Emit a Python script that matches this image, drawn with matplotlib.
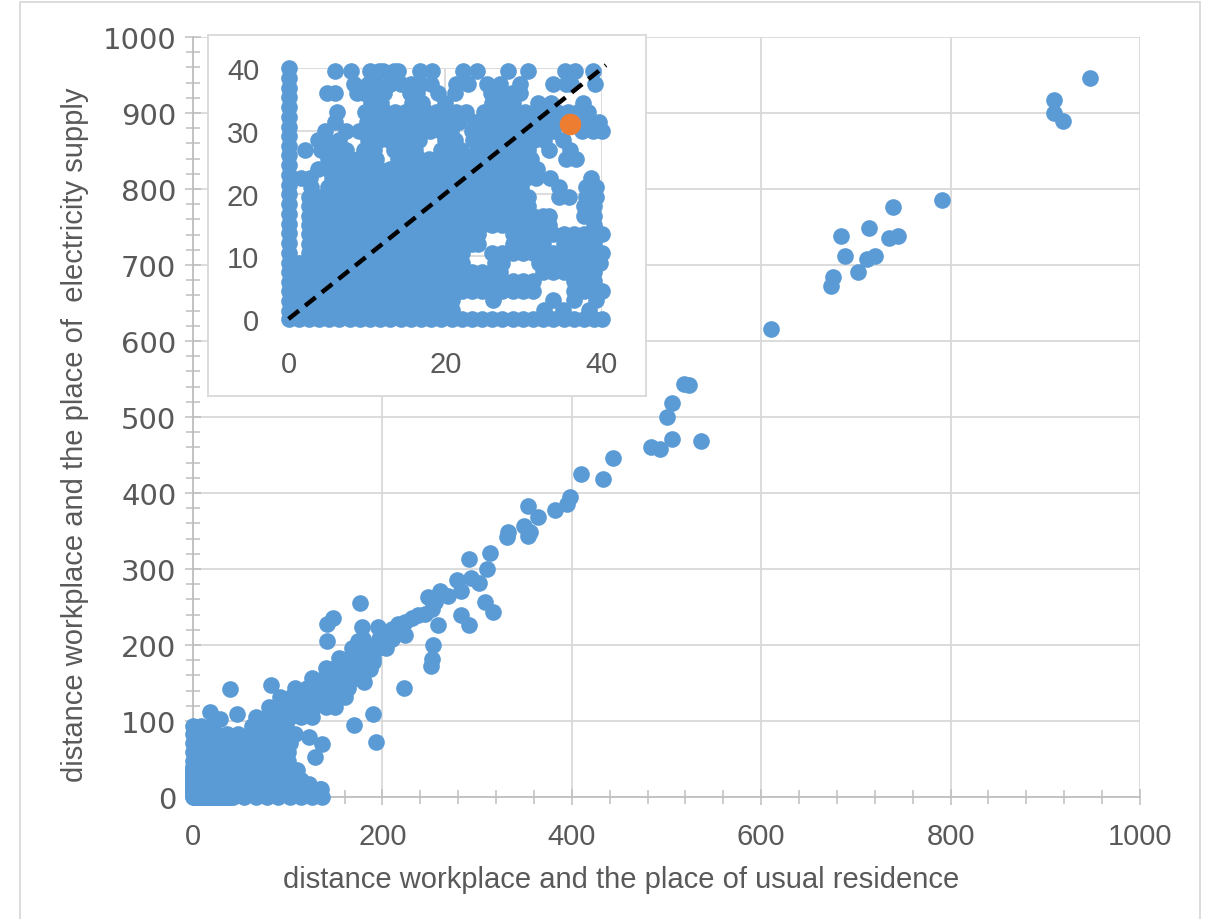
import numpy as np
import matplotlib
matplotlib.use("Agg")
import matplotlib.pyplot as plt
from matplotlib.patches import Rectangle
from matplotlib.ticker import MultipleLocator

BLUE = "#5B9BD5"
ORANGE = "#ED7D31"
GRID = "#D9D9D9"
AXIS = "#BFBFBF"
TEXT = "#595959"

# ---------------------------------------------------------------- data (km)
# commuters whose workplace distance to residence is 0 (points on the y axis)
axis_x0_y = [1.2, 2.8, 4.4, 5.9, 7.5, 9.0, 10.6, 12.1, 13.7, 15.2, 16.8, 18.3,
             19.9, 21.4, 23.0, 24.5, 26.1, 27.6, 29.2, 30.7, 32.3, 33.8, 35.4,
             36.9, 38.5, 40.0, 47, 59, 71, 83, 93]

# commuters whose workplace distance to supply is 0 (points on the x axis)
axis_y0_x = [0.0, 1.3, 2.6, 3.9, 5.2, 6.5, 7.8, 9.1, 10.4, 11.7, 13.0, 14.3,
             15.6, 16.9, 18.2, 19.5, 20.8, 22.1, 23.4, 24.7, 26.0, 27.3, 28.6,
             29.9, 31.2, 32.5, 33.8, 35.1, 36.4, 37.7, 39.0, 40.0,
             42, 54, 66, 78, 90, 102, 114, 126, 136]

# short distances, grouped by distance to electricity supply
near_rows = {
    1.5: [1.3, 2.6, 3.9, 5.2, 6.5, 7.8, 9.1, 10.4, 11.7, 13.0, 14.3, 15.6, 16.9,
          18.2, 19.5, 20.8, 32.6, 35.0, 38.3],
    3.0: [1.3, 2.6, 3.9, 5.2, 6.5, 7.8, 9.1, 10.4, 11.7, 13.0, 14.3, 15.6, 16.9,
          18.2, 19.5, 20.8, 26.1, 33.8, 36.4, 39.2],
    4.5: [1.3, 2.6, 3.9, 5.2, 6.5, 7.8, 9.1, 10.4, 11.7, 13.0, 14.3, 15.6, 16.9,
          18.2, 19.5, 20.8, 22.1, 23.4, 24.7, 26.0, 27.3, 28.6, 29.9, 31.2, 36.4,
          37.7, 39.0, 40.0],
    6.0: [1.3, 2.6, 3.9, 5.2, 6.5, 7.8, 9.1, 10.4, 11.7, 13.0, 14.3, 15.6, 16.9,
          18.2, 19.5, 20.8, 22.1, 23.4, 24.7, 26.0, 27.3, 28.6, 29.9, 31.2, 36.4,
          37.7, 39.0],
    7.5: [1.3, 2.6, 3.9, 5.2, 6.5, 7.8, 9.1, 10.4, 11.7, 13.0, 14.3, 15.6, 16.9,
          18.2, 19.5, 20.8, 22.1, 23.4, 24.7, 26.0, 27.0, 32.5, 33.8, 35.1, 36.4,
          37.7, 39.0],
    9.0: [1.3, 2.6, 3.9, 5.2, 6.5, 7.8, 9.1, 10.4, 11.7, 13.0, 14.3, 15.6, 16.9,
          18.2, 19.5, 20.8, 22.1, 26.4, 27.2, 32.0, 33.3, 34.6, 35.9, 37.2, 38.5,
          39.8],
    10.5: [2.6, 3.9, 5.2, 6.5, 7.8, 9.1, 10.4, 11.7, 13.0, 14.3, 15.6, 16.9, 18.2,
           19.5, 20.8, 22.1, 26.0, 27.3, 28.6, 29.9, 31.2, 32.5, 33.8, 35.1, 36.4,
           37.7, 39.0, 40.0],
    12.0: [2.6, 3.9, 5.2, 6.5, 7.8, 9.1, 10.4, 11.7, 13.0, 14.3, 15.6, 16.9, 18.2,
           19.5, 20.8, 22.1, 23.4, 24.2, 28.6, 29.9, 31.2, 32.5, 35.1, 36.4, 37.7,
           39.0],
    13.5: [2.6, 3.9, 5.2, 6.5, 7.8, 9.1, 10.4, 11.7, 13.0, 14.3, 15.6, 16.9, 18.2,
           19.5, 20.8, 22.1, 23.4, 24.2, 28.6, 29.9, 31.2, 32.5, 33.8, 35.1, 36.4,
           37.7, 39.0, 40.0],
    15.0: [2.6, 3.9, 5.2, 6.5, 7.8, 9.1, 10.4, 11.7, 13.0, 14.3, 15.6, 16.9, 18.2,
           19.5, 20.8, 22.1, 23.4, 24.7, 26.0, 27.3, 28.6, 29.9, 31.2, 32.5, 33.2,
           39.0],
    16.5: [2.6, 3.9, 5.2, 6.5, 7.8, 9.1, 10.4, 11.7, 13.0, 14.3, 15.6, 16.9, 18.2,
           19.5, 20.8, 22.1, 23.4, 24.7, 26.0, 27.3, 28.6, 29.9, 31.2, 32.5, 33.2,
           37.7, 39.0],
    18.0: [2.6, 3.9, 5.2, 6.5, 7.8, 9.1, 10.4, 11.7, 13.0, 14.3, 15.6, 16.9, 18.2,
           19.5, 20.8, 22.1, 23.4, 24.7, 26.0, 27.3, 28.6, 29.9, 30.5, 37.7, 39.0],
    19.5: [2.6, 3.9, 5.2, 6.5, 7.8, 9.1, 10.4, 11.7, 13.0, 14.3, 15.6, 16.9, 18.2,
           19.5, 20.8, 22.1, 23.4, 24.7, 26.0, 27.3, 28.6, 29.9, 30.5, 34.5, 35.8,
           37.9, 39.2],
    21.0: [2.9, 5.0, 6.3, 7.6, 8.9, 10.2, 11.5, 12.8, 14.1, 15.4, 16.7, 18.0, 19.3,
           20.6, 21.9, 23.2, 24.5, 25.8, 27.1, 28.4, 29.7, 34.5, 37.9, 39.2],
    22.5: [1.6, 2.7, 5.6, 6.9, 8.2, 9.5, 10.8, 12.1, 13.4, 14.7, 16.0, 17.3, 18.6,
           19.9, 21.2, 22.5, 23.8, 25.1, 26.4, 27.7, 29.0, 30.3, 31.6, 33.4, 38.6],
    24.0: [3.8, 5.1, 6.4, 7.7, 9.0, 10.3, 11.6, 12.9, 14.2, 15.5, 16.8, 18.1, 19.4,
           20.7, 22.0, 23.3, 24.6, 25.9, 27.2, 28.5, 29.8, 31.7],
    25.5: [5.0, 6.3, 7.6, 8.9, 10.2, 11.2, 14.0, 15.3, 16.6, 17.9, 19.2, 20.5, 21.8,
           23.1, 24.4, 25.7, 27.0, 28.3, 29.6, 30.9, 35.4, 36.7],
    27.0: [2.1, 4.2, 6.0, 7.3, 9.6, 10.9, 13.5, 14.8, 16.1, 19.4, 20.7, 22.0, 24.0,
           25.3, 26.6, 27.9, 29.2, 30.5, 33.2, 35.9],
    28.5: [3.8, 4.8, 6.5, 10.2, 11.5, 12.8, 14.1, 15.4, 16.7, 20.0, 21.3, 23.5,
           24.8, 26.1, 27.4, 28.7, 30.0, 31.3, 32.6, 35.0],
    30.0: [4.6, 7.4, 9.0, 10.3, 11.6, 12.9, 14.2, 15.5, 16.8, 18.1, 19.4, 20.7,
           23.4, 24.7, 26.0, 27.3, 28.6, 29.9, 31.2, 32.5, 33.8, 37.5, 38.8, 40.0],
    31.5: [5.9, 10.0, 11.3, 12.6, 13.9, 15.2, 16.5, 17.8, 19.1, 20.4, 21.7, 23.8,
           25.1, 26.4, 27.7, 29.0, 30.3, 31.6, 32.9, 34.2, 37.0, 38.3, 39.6],
    33.0: [6.2, 9.7, 11.0, 12.3, 13.6, 14.9, 16.2, 17.5, 18.8, 20.1, 21.4, 22.7,
           25.0, 26.3, 27.6, 28.9, 30.2, 31.5, 32.8, 34.3, 35.6, 36.9, 38.2],
    34.5: [10.5, 11.8, 15.7, 17.0, 20.0, 26.0, 27.3, 28.6, 31.8, 33.5, 37.6],
    36.0: [4.9, 5.9, 8.7, 9.6, 10.5, 11.4, 12.2, 15.5, 16.4, 19.1, 21.3, 25.9,
           27.2, 28.5, 29.6],
    37.5: [8.4, 10.2, 11.2, 13.0, 14.3, 15.6, 16.9, 18.2, 21.4, 22.9, 25.3, 27.0,
           29.5, 33.8, 35.4, 36.1, 39.1],
    39.5: [5.9, 8.0, 10.4, 11.6, 12.1, 13.4, 14.0, 16.8, 18.3, 22.3, 24.0, 28.0,
           30.5, 35.3, 36.5, 38.9],
}

# medium distances, grouped by distance to electricity supply
mid_rows = {
    11: [44, 56, 68, 80, 92, 104, 116, 127, 134],
    23: [44, 56, 68, 80, 92, 104, 114],
    35: [44, 56, 68, 80, 92, 104, 110],
    47: [10, 20, 30, 42, 54, 66, 78, 90, 100],
    59: [10, 20, 30, 42, 54, 66, 78, 90, 100],
    71: [10, 20, 32, 44, 56, 68, 80, 92, 102],
    83: [12, 24, 36, 48, 60, 72, 84, 96, 108],
    93: [8, 20, 62, 74, 86, 98],
    105: [66, 78, 90, 102, 114, 126],
    118: [80, 92, 104, 116, 128, 140, 150],
    131: [92, 104, 116, 128, 140, 152, 160],
    144: [108, 120, 132, 144, 156, 164],
    157: [126, 138, 150, 162, 172],
    170: [140, 152, 164, 176, 186],
    183: [154, 166, 178, 190],
    196: [168, 180, 192, 204],
    208: [180, 196, 210],
}

# individual longer commutes
far_x = [947, 909, 909, 919, 791, 739, 714, 684, 735, 744, 689, 712, 720, 702,
         676, 674, 610, 519, 524, 506, 500, 506, 536, 484, 493, 444, 410, 433,
         398, 395, 382, 354, 364, 349, 356, 354, 333, 332, 314, 291, 310, 294,
         302, 279, 283, 261, 269, 248, 256, 252, 245, 238, 231, 224, 217, 210,
         195, 201, 178, 176, 308, 317, 283, 291, 259, 253, 252, 251, 224, 148,
         142, 142, 174, 199, 194, 156, 167, 185, 187, 190, 146, 153, 174, 181,
         139, 146, 223, 126, 156, 164, 18, 28, 46, 39, 82, 123, 136, 129, 123,
         135, 170, 190, 193]
far_y = [946, 917, 900, 890, 786, 776, 749, 738, 736, 738, 712, 708, 712, 691,
         684, 673, 616, 544, 542, 519, 500, 471, 469, 461, 458, 446, 425, 419,
         395, 386, 378, 383, 368, 357, 349, 344, 349, 342, 321, 313, 300, 288,
         281, 285, 271, 271, 265, 263, 257, 248, 241, 239, 235, 230, 228, 221,
         224, 215, 224, 255, 257, 244, 239, 226, 226, 200, 182, 173, 213, 235,
         228, 205, 205, 197, 200, 182, 186, 178, 169, 178, 169, 162, 158, 151,
         156, 149, 143, 143, 151, 156, 112, 103, 109, 142, 147, 79, 70, 52, 17,
         11, 95, 109, 72]

# highlighted commuter
highlight_x = [35.9]
highlight_y = [31.1]

# ---------------------------------------------------------------- assemble
xs, ys = [], []
xs += [0.0] * len(axis_x0_y); ys += axis_x0_y
xs += axis_y0_x; ys += [0.0] * len(axis_y0_x)
for yv, row in list(near_rows.items()) + list(mid_rows.items()):
    xs += row; ys += [yv] * len(row)
xs += far_x; ys += far_y
xs = np.array(xs, float); ys = np.array(ys, float)

MS = 12.0          # marker diameter, points

# ---------------------------------------------------------------- figure
W, H = 1210, 920
fig = plt.figure(figsize=(W / 100, H / 100), dpi=100)
fig.patch.set_facecolor("white")

def frac(x0, y0, x1, y1):
    return [x0 / W, 1 - y1 / H, (x1 - x0) / W, (y1 - y0) / H]

# chart border
fig.patches.append(Rectangle((20 / W, -0.05), 1180 / W, 1.05 - 3 / H,
                             transform=fig.transFigure, fill=False,
                             edgecolor=GRID, lw=1.3))

ax = fig.add_axes(frac(193, 38, 1140, 798))
ax.set_xlim(0, 1000)
ax.set_ylim(0, 1000)
ax.set_axisbelow(True)
ax.xaxis.set_major_locator(MultipleLocator(200))
ax.xaxis.set_minor_locator(MultipleLocator(40))
ax.yaxis.set_major_locator(MultipleLocator(100))
ax.yaxis.set_minor_locator(MultipleLocator(20))
ax.grid(True, which="major", color=GRID, lw=1.3)
for s in ("top", "right"):
    ax.spines[s].set_visible(False)
for s in ("left", "bottom"):
    ax.spines[s].set_color(AXIS)
    ax.spines[s].set_linewidth(1.3)
ax.tick_params(which="major", direction="inout", length=12, width=1.1,
               color=AXIS)
ax.tick_params(which="minor", direction="inout", length=10, width=1.1,
               color=AXIS)
ax.tick_params(axis="x", which="major", pad=12, labelsize=21,
               labelcolor=TEXT)
ax.tick_params(axis="y", which="major", pad=6, labelsize=21, labelcolor=TEXT)
for lab in ax.get_xticklabels():
    lab.set_fontfamily("Liberation Sans")
for lab in ax.get_yticklabels():
    lab.set_fontfamily("DejaVu Sans")
    lab.set_fontsize(21)

ax.scatter(xs, ys, s=MS ** 2, color=BLUE, linewidths=0, clip_on=False,
           zorder=3)

fig.text(621 / W, 1 - 880 / H,
         "distance workplace and the place of usual residence",
         ha="center", va="center", fontsize=21, color=TEXT,
         family="Liberation Sans")
fig.text(75 / W, 1 - 435 / H,
         "distance workplace and the place of  electricity supply",
         ha="center", va="center", rotation=90, fontsize=21, color=TEXT,
         family="Liberation Sans")

# inset frame
box = fig.add_axes(frac(208, 36, 646, 397), zorder=5)
box.set_facecolor("white")
box.set_xticks([]); box.set_yticks([])
for s in box.spines.values():
    s.set_color(GRID); s.set_linewidth(1.3)

ai = fig.add_axes(frac(288.5, 69.3, 602, 320), zorder=6)
ai.patch.set_alpha(0)
ai.set_xlim(0, 40)
ai.set_ylim(0, 40)
ai.set_axisbelow(True)
ai.xaxis.set_major_locator(MultipleLocator(20))
ai.xaxis.set_minor_locator(MultipleLocator(4))
ai.yaxis.set_major_locator(MultipleLocator(10))
ai.yaxis.set_minor_locator(MultipleLocator(2))
ai.grid(True, which="major", color=GRID, lw=1.3)
for s in ("top", "right"):
    ai.spines[s].set_visible(False)
for s in ("left", "bottom"):
    ai.spines[s].set_color(AXIS)
    ai.spines[s].set_linewidth(1.3)
ai.tick_params(which="major", direction="inout", length=10, width=1.1,
               color=AXIS)
ai.tick_params(which="minor", direction="inout", length=8, width=1.1,
               color=AXIS)
ai.tick_params(axis="x", which="major", pad=17, labelsize=21, labelcolor=TEXT)
ai.tick_params(axis="y", which="major", pad=16, labelsize=21, labelcolor=TEXT)
for lab in ai.get_xticklabels() + ai.get_yticklabels():
    lab.set_fontfamily("Liberation Sans")

inside = (xs <= 40.5) & (ys <= 40.5)
ai.scatter(xs[inside], ys[inside], s=MS ** 2, color=BLUE, linewidths=0,
           clip_on=False, zorder=3)
ai.scatter(highlight_x, highlight_y, s=15.5 ** 2, color=ORANGE, linewidths=0,
           clip_on=False, zorder=4)
ai.plot([0, 40.5], [0, 40.5], color="black", lw=3.2, dashes=(3.0, 1.8),
        clip_on=False, zorder=5)

fig.savefig("out.png", dpi=100, facecolor="white")
